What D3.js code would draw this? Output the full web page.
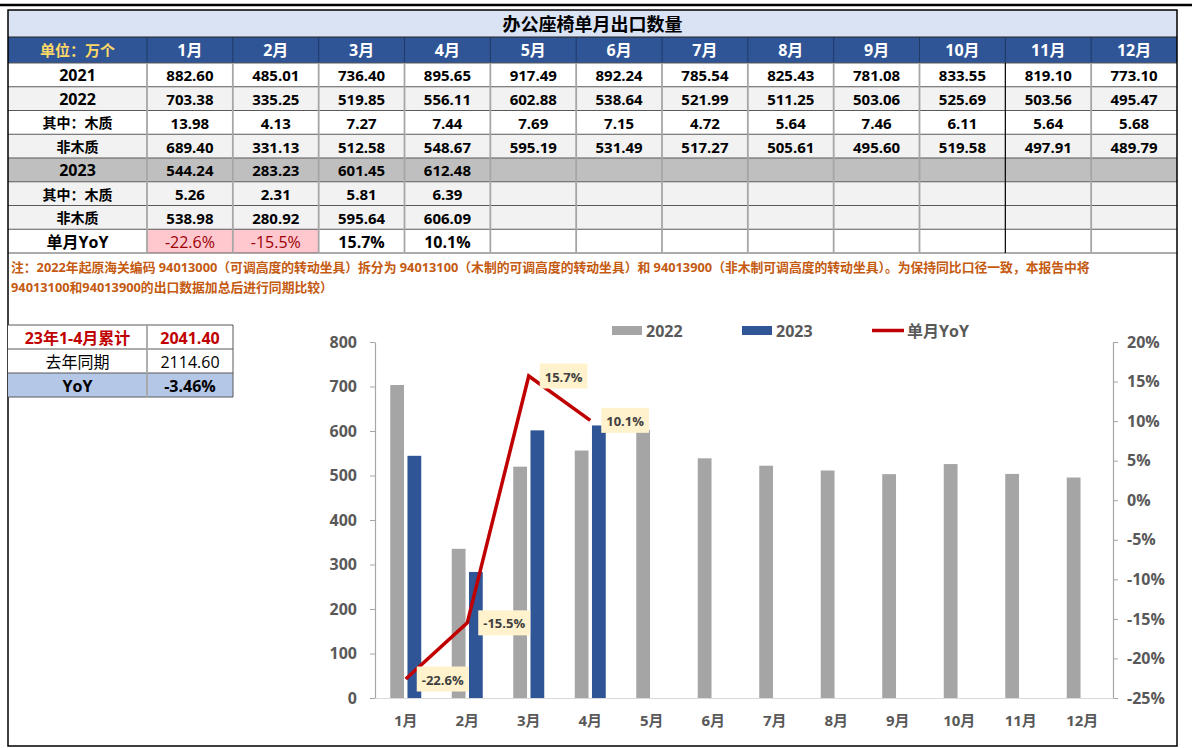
<!DOCTYPE html>
<html>
<head>
<meta charset="utf-8">
<script src="https://cdn.jsdelivr.net/npm/d3@7"></script>
<style>
  body { margin: 0; background: #fff; }
  svg { display: block; font-family: "Open Sans", "Noto Sans CJK SC", sans-serif; }
</style>
</head>
<body>
<div id="app"></div>
<script>
const months = ["1月", "2月", "3月", "4月", "5月", "6月", "7月", "8月", "9月", "10月", "11月", "12月"];
const rowLabels = ["2021", "2022", "其中：木质", "非木质", "2023", "其中：木质", "非木质", "单月YoY"];
const v2021 = [882.60, 485.01, 736.40, 895.65, 917.49, 892.24, 785.54, 825.43, 781.08, 833.55, 819.10, 773.10];
const v2022 = [703.38, 335.25, 519.85, 556.11, 602.88, 538.64, 521.99, 511.25, 503.06, 525.69, 503.56, 495.47];
const wood2022 = [13.98, 4.13, 7.27, 7.44, 7.69, 7.15, 4.72, 5.64, 7.46, 6.11, 5.64, 5.68];
const nonWood2022 = [689.40, 331.13, 512.58, 548.67, 595.19, 531.49, 517.27, 505.61, 495.60, 519.58, 497.91, 489.79];
const v2023 = [544.24, 283.23, 601.45, 612.48];
const wood2023 = [5.26, 2.31, 5.81, 6.39];
const nonWood2023 = [538.98, 280.92, 595.64, 606.09];
const yoy = [-22.6, -15.5, 15.7, 10.1];
const summaryLabels = ["23年1-4月累计", "去年同期", "YoY"];
const summaryValues = ["2041.40", "2114.60", "-3.46%"];
const leftTicks = [0, 100, 200, 300, 400, 500, 600, 700, 800];
const rightTicks = [-25, -20, -15, -10, -5, 0, 5, 10, 15, 20];
const noteLines = [
  "注：2022年起原海关编码 94013000（可调高度的转动坐具）拆分为 94013100（木制的可调高度的转动坐具）和 94013900（非木制可调高度的转动坐具）。为保持同比口径一致，本报告中将",
  "94013100和94013900的出口数据加总后进行同期比较）"
];

const width = 1192;
const height = 748;

const svg = d3.select("#app").append("svg").attr("width", width).attr("height", height);

// top rule
svg.append("line").attr("x1", 0).attr("x2", width).attr("y1", 5).attr("y2", 5)
  .attr("stroke", "#000").attr("stroke-width", 2.5);

// ---------- table ----------
const tLeft = 8, tRight = 1177, labelW = 139;
const col = d3.scaleBand().domain(months).range([tLeft + labelW, tRight]);
const rowsData = [v2021, v2022, wood2022, nonWood2022, v2023, wood2023, nonWood2023, yoy];
const row = d3.scaleBand().domain(d3.range(rowsData.length)).range([63, 253]);
const rowFill = ["#fff", "#f2f2f2", "#fff", "#f2f2f2", "#bfbfbf", "#f2f2f2", "#f2f2f2", "#fff"];
const labelSize = [16, 16, 14, 14, 16, 14, 14, 16];

// title row
svg.append("rect").attr("x", tLeft).attr("y", 10).attr("width", tRight - tLeft).attr("height", 27)
  .attr("fill", "#dae3f3");
svg.append("text").text("办公座椅单月出口数量")
  .attr("x", (tLeft + tRight) / 2).attr("y", 24).attr("text-anchor", "middle")
  .attr("dominant-baseline", "central").style("font-size", "18px").style("font-weight", 700)
  .attr("fill", "#000");

// header row
svg.append("rect").attr("x", tLeft).attr("y", 37).attr("width", tRight - tLeft).attr("height", 26)
  .attr("fill", "#2f5597");
svg.append("text").text("单位：万个")
  .attr("x", tLeft + labelW / 2).attr("y", 50).attr("text-anchor", "middle")
  .attr("dominant-baseline", "central").style("font-size", "15px").style("font-weight", 700)
  .attr("fill", "#ffd966");
svg.selectAll(".mhead").data(months).enter().append("text")
  .text((d) => d)
  .attr("x", (d) => col(d) + col.bandwidth() / 2).attr("y", 50)
  .attr("text-anchor", "middle").attr("dominant-baseline", "central")
  .style("font-size", "16px").style("font-weight", 700).attr("fill", "#fff");
svg.selectAll(".hsep").data(months).enter().append("line")
  .attr("x1", (d) => col(d)).attr("x2", (d) => col(d)).attr("y1", 37).attr("y2", 63)
  .attr("stroke", "#1f3864").attr("stroke-width", 1);

// body rows
rowsData.forEach((vals, i) => {
  const y0 = row(i), h = row.bandwidth();
  svg.append("rect").attr("x", tLeft).attr("y", y0).attr("width", tRight - tLeft).attr("height", h)
    .attr("fill", rowFill[i]);
  svg.append("text").text(rowLabels[i])
    .attr("x", tLeft + labelW / 2).attr("y", y0 + h / 2 + 0.5).attr("text-anchor", "middle")
    .attr("dominant-baseline", "central").style("font-size", labelSize[i] + "px")
    .style("font-weight", 700).attr("fill", "#000");
  vals.forEach((v, j) => {
    const isYoy = i === rowsData.length - 1;
    const neg = isYoy && v < 0;
    if (neg) {
      svg.append("rect").attr("x", col(months[j])).attr("y", y0).attr("width", col.bandwidth())
        .attr("height", h).attr("fill", "#ffc7ce");
    }
    svg.append("text").text(isYoy ? v.toFixed(1) + "%" : v.toFixed(2))
      .attr("x", col(months[j]) + col.bandwidth() / 2).attr("y", y0 + h / 2 + 0.5)
      .attr("text-anchor", "middle").attr("dominant-baseline", "central")
      .style("font-size", isYoy ? "16px" : "15px").style("font-weight", neg ? 400 : 700)
      .attr("fill", neg ? "#9c0006" : "#000");
  });
});

// grid lines
svg.selectAll(".hline").data(d3.range(rowsData.length + 1)).enter().append("line")
  .attr("x1", tLeft).attr("x2", tRight)
  .attr("y1", (d) => 63 + d * row.step()).attr("y2", (d) => 63 + d * row.step())
  .attr("stroke", "#595959").attr("stroke-width", 1);
svg.append("line").attr("x1", tLeft).attr("x2", tRight).attr("y1", 37).attr("y2", 37)
  .attr("stroke", "#262626").attr("stroke-width", 1.2);
svg.selectAll(".vline").data(months).enter().append("line")
  .attr("x1", (d) => col(d)).attr("x2", (d) => col(d)).attr("y1", 63).attr("y2", 253)
  .attr("stroke", (d) => (d === "11月" ? "#000" : "#a6a6a6"))
  .attr("stroke-width", (d) => (d === "11月" ? 1.2 : 1.8));

// outer frame
svg.append("rect").attr("x", tLeft).attr("y", 10).attr("width", tRight - tLeft).attr("height", 736)
  .attr("fill", "none").attr("stroke", "#000").attr("stroke-width", 1.5);

// note
svg.selectAll(".note").data(noteLines).enter().append("text")
  .text((d) => d)
  .attr("x", 11).attr("y", (d, i) => 267 + i * 20)
  .attr("dominant-baseline", "central")
  .style("font-size", "12.8px").style("font-weight", 700).attr("fill", "#c55a11");

// ---------- summary box ----------
const sTop = 325, sRowH = 24, sSplit = 147, sRight = 233;
summaryLabels.forEach((lab, i) => {
  const y0 = sTop + i * sRowH;
  svg.append("rect").attr("x", tLeft).attr("y", y0).attr("width", sRight - tLeft).attr("height", sRowH)
    .attr("fill", i === 2 ? "#b4c7e7" : "#fff");
  const color = i === 0 ? "#c00000" : "#000";
  const weight = i === 1 ? 400 : 700;
  svg.append("text").text(lab)
    .attr("x", (tLeft + sSplit) / 2).attr("y", y0 + sRowH / 2 + 0.5).attr("text-anchor", "middle")
    .attr("dominant-baseline", "central").style("font-size", "16px").style("font-weight", weight)
    .attr("fill", color);
  svg.append("text").text(summaryValues[i])
    .attr("x", (sSplit + sRight) / 2).attr("y", y0 + sRowH / 2 + 0.5).attr("text-anchor", "middle")
    .attr("dominant-baseline", "central").style("font-size", "16px").style("font-weight", weight)
    .attr("fill", color);
});
d3.range(4).forEach((i) => {
  svg.append("line").attr("x1", tLeft).attr("x2", sRight)
    .attr("y1", sTop + i * sRowH).attr("y2", sTop + i * sRowH)
    .attr("stroke", "#595959").attr("stroke-width", 1);
});
svg.append("line").attr("x1", sSplit).attr("x2", sSplit).attr("y1", sTop).attr("y2", sTop + 3 * sRowH)
  .attr("stroke", "#a6a6a6").attr("stroke-width", 1.8);
svg.append("line").attr("x1", sRight).attr("x2", sRight).attr("y1", sTop).attr("y2", sTop + 3 * sRowH)
  .attr("stroke", "#595959").attr("stroke-width", 1);

// ---------- chart ----------
const cLeft = 375, cRight = 1113, cTop = 342, cBottom = 698;
const x = d3.scaleBand().domain(months).range([cLeft, cRight]);
const x1 = d3.scaleBand().domain(["2022", "2023"])
  .range([x.bandwidth() / 2 - 15.5, x.bandwidth() / 2 + 15.5]).paddingInner(0.2);
const y = d3.scaleLinear().domain([0, 800]).range([cBottom, cTop]);
const yR = d3.scaleLinear().domain([-25, 20]).range([cBottom, cTop]);

svg.append("g").selectAll("rect").data(v2022).enter().append("rect")
  .attr("x", (d, i) => x(months[i]) + x1("2022"))
  .attr("y", (d) => y(d)).attr("width", x1.bandwidth()).attr("height", (d) => y(0) - y(d))
  .attr("fill", "#a5a5a5");
svg.append("g").selectAll("rect").data(v2023).enter().append("rect")
  .attr("x", (d, i) => x(months[i]) + x1("2023"))
  .attr("y", (d) => y(d)).attr("width", x1.bandwidth()).attr("height", (d) => y(0) - y(d))
  .attr("fill", "#2f5597");

const axisColor = "#a6a6a6";
const labColor = "#595959";

const gl = svg.append("g").attr("transform", `translate(${cLeft},0)`)
  .call(d3.axisLeft(y).tickValues(leftTicks).tickSize(5).tickSizeOuter(0).tickPadding(13));
const gr = svg.append("g").attr("transform", `translate(${cRight},0)`)
  .call(d3.axisRight(yR).tickValues(rightTicks).tickSize(5).tickSizeOuter(0).tickPadding(9)
    .tickFormat((d) => d + "%"));
[gl, gr].forEach((g) => {
  g.select(".domain").attr("stroke", axisColor).attr("stroke-width", 1.2);
  g.selectAll(".tick line").attr("stroke", axisColor);
  g.selectAll(".tick text").attr("fill", labColor).style("font-size", "16px")
    .style("font-weight", 700).style("font-family", '"Open Sans", "Noto Sans CJK SC", sans-serif');
});

const gb = svg.append("g").attr("transform", `translate(0,${cBottom})`)
  .call(d3.axisBottom(x).tickSize(0).tickPadding(17));
gb.select(".domain").attr("stroke", "#d9d9d9").attr("stroke-width", 1.2);
gb.selectAll(".tick text").attr("fill", labColor).style("font-size", "15px")
  .style("font-weight", 700).style("font-family", '"Open Sans", "Noto Sans CJK SC", sans-serif');

// YoY line
const px = (i) => x(months[i]) + x.bandwidth() / 2;
svg.append("path").datum(yoy)
  .attr("d", d3.line().x((d, i) => px(i)).y((d) => yR(d)))
  .attr("fill", "none").attr("stroke", "#c00000").attr("stroke-width", 3.5);

// data labels
yoy.forEach((v, i) => {
  const g = svg.append("g");
  const bx = px(i) + 11, by = yR(v);
  const rect = g.append("rect").attr("fill", "#fff2cc");
  const t = g.append("text").text(v.toFixed(1) + "%")
    .attr("x", bx + 5).attr("y", by + 0.5).attr("dominant-baseline", "central")
    .style("font-size", "13px").style("font-weight", 700).attr("fill", "#404040");
  const w = t.node().getComputedTextLength();
  rect.attr("x", bx).attr("y", by - 12.5).attr("width", w + 10).attr("height", 25);
});

// legend
const legend = svg.append("g");
const legendItems = [
  { name: "2022", x: 612, kind: "rect", color: "#a5a5a5" },
  { name: "2023", x: 742, kind: "rect", color: "#2f5597" },
  { name: "单月YoY", x: 872, kind: "line", color: "#c00000" }
];
legendItems.forEach((it) => {
  if (it.kind === "rect") {
    legend.append("rect").attr("x", it.x).attr("y", 326).attr("width", 30).attr("height", 9)
      .attr("fill", it.color);
  } else {
    legend.append("line").attr("x1", it.x).attr("x2", it.x + 32).attr("y1", 330.5).attr("y2", 330.5)
      .attr("stroke", it.color).attr("stroke-width", 3.5);
  }
  legend.append("text").text(it.name)
    .attr("x", it.x + (it.kind === "rect" ? 34 : 35)).attr("y", 330.5)
    .attr("dominant-baseline", "central").style("font-size", "16px").style("font-weight", 700)
    .attr("fill", labColor);
});
</script>
</body>
</html>
